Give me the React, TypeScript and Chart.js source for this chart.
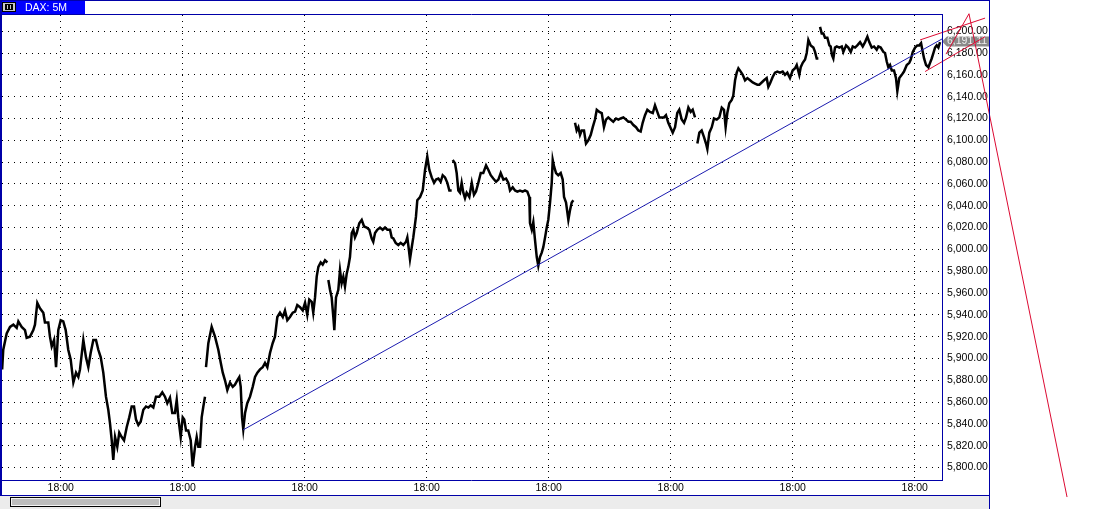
import React, { useEffect, useRef } from "react";
import { Chart, registerables } from "chart.js";

Chart.register(...registerables);

// ---- Data (session hours: each trading day spans 11 h, 09:00-20:00) ----
const seg1Times = [3.72, 3.82, 4.13, 4.43, 4.73, 5.03, 5.18, 5.48, 5.78, 5.93, 6.23, 6.53, 6.68, 6.89, 7.13, 7.43, 7.58, 7.88, 8.03, 8.19, 8.40, 8.58, 8.78, 9.00, 9.23, 9.45, 9.68, 9.90, 10.14, 10.38, 10.59, 10.74, 11.04, 11.28, 11.49, 11.70, 11.94, 12.18, 12.39, 12.61, 12.84, 13.08, 13.29, 13.44, 13.60, 13.74, 13.90, 14.10, 14.28, 14.50, 14.71, 14.95, 15.18, 15.40, 15.61, 15.79, 16.00, 16.21, 16.45, 16.69, 16.90, 17.11, 17.35, 17.59, 17.89, 18.16, 18.40, 18.61, 18.85, 19.06, 19.30, 19.46, 19.60, 19.82, 20.00, 20.14, 20.30, 20.50, 20.72, 20.90, 21.11, 21.26, 21.41, 21.56, 21.71, 21.86, 22.01];
const seg1Prices = [5890, 5908, 5923, 5929, 5931, 5928, 5934, 5929, 5926, 5919, 5920, 5926, 5931, 5951, 5946, 5942, 5933, 5933, 5920, 5911, 5917, 5892, 5926, 5935, 5934, 5926, 5908, 5899, 5878, 5887, 5883, 5890, 5917, 5901, 5892, 5905, 5917, 5917, 5908, 5901, 5887, 5865, 5853, 5841, 5825, 5807, 5828, 5819, 5832, 5828, 5825, 5837, 5846, 5856, 5856, 5844, 5839, 5842, 5853, 5856, 5855, 5857, 5855, 5865, 5865, 5869, 5865, 5859, 5864, 5850, 5850, 5862, 5846, 5828, 5846, 5844, 5834, 5834, 5825, 5801, 5819, 5828, 5819, 5819, 5846, 5856, 5865];

const seg2Times = [22.10, 22.31, 22.61, 22.91, 23.21, 23.43, 23.61, 23.81, 24.02, 24.26, 24.51, 24.71, 24.92, 25.10, 25.23, 25.35, 25.46, 25.62, 25.82, 26.07, 26.31, 26.52, 26.73, 26.97, 27.21, 27.42, 27.63, 27.87, 28.11, 28.32, 28.53, 28.77, 29.02, 29.22, 29.43, 29.67, 29.92, 30.13, 30.33, 30.58, 30.82, 31.03, 31.23, 31.41, 31.63, 31.77, 31.93, 32.08, 32.23, 32.44, 32.62, 32.83, 33.04];
const seg2Prices = [5892, 5914, 5929, 5920, 5908, 5896, 5887, 5880, 5871, 5878, 5874, 5876, 5880, 5883, 5874, 5846, 5835, 5850, 5859, 5865, 5874, 5883, 5887, 5890, 5892, 5896, 5892, 5905, 5914, 5920, 5938, 5942, 5938, 5944, 5935, 5938, 5942, 5943, 5949, 5947, 5944, 5951, 5940, 5954, 5952, 5942, 5956, 5975, 5984, 5988, 5986, 5990, 5988];

const seg3Times = [33.13, 33.28, 33.43, 33.58, 33.67, 33.82, 34.03, 34.18, 34.33, 34.48, 34.63, 34.79, 34.93, 35.08, 35.24, 35.38, 35.53, 35.69, 35.92, 36.14, 36.35, 36.59, 36.82, 37.04, 37.18, 37.34, 37.54, 37.79, 38.03, 38.24, 38.45, 38.69, 38.84, 38.99, 39.20, 39.44, 39.65, 39.89, 40.13, 40.25, 40.40, 40.49, 40.65, 40.79, 41.03, 41.15, 41.40, 41.64, 41.85, 42.05, 42.23, 42.45, 42.66, 42.84, 43.05, 43.26, 43.44, 43.65, 43.86, 44.04, 44.25];
const seg3Prices = [5972, 5963, 5956, 5938, 5926, 5956, 5963, 5981, 5969, 5975, 5966, 5978, 5984, 5993, 6015, 6018, 6011, 6015, 6024, 6027, 6021, 6020, 6018, 6010, 6007, 6015, 6018, 6020, 6018, 6020, 6018, 6018, 6011, 6010, 6006, 6004, 6006, 6004, 6007, 6011, 5999, 5991, 6002, 6011, 6030, 6045, 6048, 6054, 6073, 6085, 6073, 6066, 6061, 6064, 6065, 6062, 6068, 6066, 6061, 6054, 6054];

const seg4Times = [44.34, 44.55, 44.70, 44.85, 45.00, 45.15, 45.30, 45.45, 45.60, 45.84, 46.06, 46.26, 46.44, 46.65, 46.87, 47.10, 47.35, 47.55, 47.77, 48.00, 48.25, 48.46, 48.67, 48.91, 49.15, 49.36, 49.51, 49.75, 49.96, 50.17, 50.41, 50.65, 50.86, 51.07, 51.25, 51.31, 51.47, 51.61, 51.76, 51.92, 52.06, 52.21, 52.37, 52.51, 52.67, 52.82, 52.96, 53.12, 53.27, 53.36, 53.48, 53.66, 53.86, 54.08, 54.26, 54.38, 54.56, 54.77, 54.92, 55.07, 55.22];
const seg4Prices = [6082, 6079, 6070, 6054, 6052, 6061, 6052, 6047, 6052, 6048, 6061, 6050, 6053, 6061, 6070, 6070, 6077, 6073, 6068, 6065, 6062, 6064, 6070, 6064, 6065, 6061, 6054, 6057, 6054, 6053, 6054, 6053, 6054, 6053, 6048, 6024, 6018, 6025, 6009, 5993, 5985, 5993, 5997, 6002, 6011, 6020, 6027, 6043, 6061, 6082, 6076, 6070, 6068, 6070, 6064, 6048, 6043, 6027, 6036, 6043, 6045];

const seg5Times = [55.37, 55.52, 55.67, 55.82, 55.97, 56.18, 56.36, 56.57, 56.79, 56.97, 57.17, 57.33, 57.56, 57.78, 57.98, 58.16, 58.37, 58.59, 58.82, 59.07, 59.28, 59.49, 59.73, 59.97, 60.18, 60.39, 60.63, 60.87, 61.08, 61.29, 61.47, 61.68, 61.89, 62.13, 62.38, 62.58, 62.79, 62.97, 63.19, 63.39, 63.57, 63.78, 64.00, 64.18, 64.39, 64.59, 64.77, 64.99, 65.20, 65.38, 65.59, 65.80, 65.98, 66.19];
const seg5Prices = [6116, 6109, 6112, 6105, 6109, 6109, 6097, 6100, 6105, 6112, 6119, 6128, 6126, 6125, 6112, 6119, 6121, 6119, 6117, 6120, 6119, 6120, 6121, 6119, 6117, 6117, 6114, 6112, 6109, 6108, 6116, 6123, 6128, 6126, 6125, 6132, 6126, 6121, 6121, 6121, 6123, 6116, 6111, 6107, 6112, 6125, 6128, 6119, 6116, 6121, 6130, 6126, 6128, 6121];

const seg6Times = [66.40, 66.58, 66.79, 67.00, 67.18, 67.30, 67.48, 67.70, 67.90, 68.15, 68.38, 68.60, 68.80, 68.95, 69.10, 69.28, 69.50, 69.64, 69.80, 69.95, 70.10, 70.31, 70.49, 70.70, 70.91, 71.15, 71.39, 71.60, 71.81, 71.99, 72.20, 72.41, 72.65, 72.80, 72.95, 73.19, 73.40, 73.61, 73.85, 74.09, 74.30, 74.51, 74.75, 74.99, 75.21, 75.36, 75.59, 75.72, 75.90, 76.11, 76.26, 76.41, 76.62, 76.86, 77.01, 77.16, 77.31];
const seg6Prices = [6097, 6107, 6109, 6103, 6097, 6092, 6107, 6112, 6120, 6119, 6121, 6130, 6128, 6112, 6125, 6134, 6137, 6141, 6155, 6162, 6166, 6163, 6160, 6155, 6157, 6155, 6153, 6152, 6151, 6151, 6153, 6155, 6157, 6149, 6152, 6158, 6162, 6163, 6162, 6163, 6160, 6162, 6157, 6164, 6166, 6169, 6160, 6167, 6171, 6174, 6180, 6192, 6187, 6185, 6181, 6175, 6175];

const seg7Times = [77.46, 77.61, 77.76, 77.91, 78.12, 78.30, 78.42, 78.54, 78.66, 78.81, 78.97, 79.20, 79.42, 79.56, 79.81, 80.01, 80.23, 80.41, 80.62, 80.82, 81.07, 81.31, 81.52, 81.73, 81.90, 82.12, 82.33, 82.57, 82.72, 82.93, 83.17, 83.32, 83.48, 83.62, 83.77, 83.93, 84.13, 84.31, 84.43, 84.61, 84.83, 85.03, 85.28, 85.51, 85.64, 85.82, 86.03, 86.23, 86.41, 86.57, 86.72, 86.84, 87.02, 87.23, 87.38, 87.53, 87.68, 87.83, 87.98, 88.13, 88.28];
const seg7Prices = [6204, 6198, 6198, 6194, 6194, 6187, 6186, 6178, 6175, 6185, 6186, 6185, 6186, 6181, 6187, 6185, 6181, 6186, 6185, 6187, 6190, 6186, 6190, 6195, 6190, 6185, 6186, 6183, 6186, 6185, 6181, 6180, 6172, 6167, 6169, 6164, 6164, 6157, 6145, 6157, 6160, 6163, 6169, 6171, 6174, 6181, 6185, 6187, 6187, 6189, 6181, 6175, 6169, 6167, 6171, 6175, 6180, 6185, 6187, 6185, 6190];

const lastPrice = 6191.11;

// Drawing tools on the chart (time, price endpoints)
const trendTimes = [25.44, 88.46];
const trendPrices = [5834.5, 6192.9];
const redUpperTimes = [86.48, 92.34];
const redUpperPrices = [6192, 6212];
const redLowerTimes = [86.93, 92.34];
const redLowerPrices = [6163, 6195];
const redLegTimes = [88.82, 90.89];
const redLegPrices = [6179, 6216];
const redLongTimes = [90.89, 99.73];
const redLongPrices = [6216, 5773];

// Axes
const yTickValues = [5800, 5820, 5840, 5860, 5880, 5900, 5920, 5940, 5960, 5980, 6000, 6020, 6040, 6060, 6080, 6100, 6120, 6140, 6160, 6180, 6200];
const xTickTimes = [9, 20, 31, 42, 53, 64, 75, 86];
const xTickLabels = ["18:00", "18:00", "18:00", "18:00", "18:00", "18:00", "18:00", "18:00"];
const X_MIN = 3.707;
const X_MAX = 88.457;
const Y_MIN = 5787.7;
const Y_MAX = 6214.85;
const titleText = "DAX: 5M";

const FONT = "'Liberation Sans', Arial, sans-serif";
const FRAME_BLUE = "#0000a8";
const RED = "#dc0a32";

const fmtPrice = (v: number) => {
  const [i, d] = v.toFixed(2).split(".");
  return i.replace(/\B(?=(\d{3})+(?!\d))/g, ",") + "." + d;
};

const pairs = (ts: number[], ps: number[]) => ts.map((t, i) => ({ x: t, y: ps[i] }));

function buildPriceData() {
  const segs: [number[], number[]][] = [
    [seg1Times, seg1Prices],
    [seg2Times, seg2Prices],
    [seg3Times, seg3Prices],
    [seg4Times, seg4Prices],
    [seg5Times, seg5Prices],
    [seg6Times, seg6Prices],
    [seg7Times, seg7Prices],
  ];
  const out: { x: number; y: number | null }[] = [];
  segs.forEach(([ts, ps], i) => {
    if (i > 0) out.push({ x: ts[0] - 0.01, y: null });
    out.push(...pairs(ts, ps));
  });
  return out;
}

const framePlugin = {
  id: "terminalFrame",
  beforeDraw(chart: any) {
    const ctx = chart.ctx as CanvasRenderingContext2D;
    const yS = chart.scales.y;
    const outerR = yS.right;
    const xS = chart.scales.x;
    const scrollTop = xS.bottom;
    ctx.save();
    ctx.fillStyle = "#ffffff";
    ctx.fillRect(0, 0, chart.width, chart.height);
    // scrollbar strip
    ctx.fillStyle = "#ececec";
    ctx.fillRect(0, scrollTop + 1, outerR, 13);
    ctx.fillStyle = "#bdbdbd";
    ctx.fillRect(10, scrollTop + 2, 151, 10);
    ctx.strokeStyle = "#000";
    ctx.lineWidth = 1;
    ctx.strokeRect(10.5, scrollTop + 2.5, 150, 9);
    ctx.strokeStyle = "#f4f4f4";
    ctx.strokeRect(11.5, scrollTop + 3.5, 148, 7);
    // header bar
    ctx.fillStyle = "#0000ff";
    ctx.fillRect(0, 0, 85, 14);
    // icon
    ctx.fillStyle = "#c8c8c8";
    ctx.fillRect(2, 2, 14, 10);
    ctx.strokeStyle = "#000";
    ctx.strokeRect(2.5, 2.5, 13, 9);
    ctx.fillStyle = "#000";
    ctx.fillRect(5, 4, 8, 6);
    ctx.fillStyle = "#c8c8c8";
    ctx.fillRect(7, 5, 4, 4);
    ctx.fillStyle = "#000";
    ctx.fillRect(8, 5, 2, 4);
    ctx.fillStyle = "#ffffff";
    ctx.font = `10.5px ${FONT}`;
    ctx.textBaseline = "alphabetic";
    ctx.textAlign = "left";
    ctx.fillText(titleText, 25, 11);
    ctx.restore();
  },
  beforeDatasetsDraw(chart: any) {
    const ctx = chart.ctx as CanvasRenderingContext2D;
    const yS = chart.scales.y;
    const y = Math.round(yS.getPixelForValue(lastPrice)) + 0.5;
    const x0 = chart.chartArea.right;
    const x1 = yS.right;
    ctx.save();
    ctx.fillStyle = "#8a8a8a";
    ctx.beginPath();
    ctx.moveTo(x0, y);
    ctx.lineTo(x0 + 5, y - 5);
    ctx.lineTo(x1, y - 5);
    ctx.lineTo(x1, y + 5);
    ctx.lineTo(x0 + 5, y + 5);
    ctx.closePath();
    ctx.fill();
    ctx.fillStyle = "#eeeeee";
    ctx.font = `10.5px ${FONT}`;
    ctx.textBaseline = "middle";
    ctx.textAlign = "left";
    ctx.fillText(fmtPrice(lastPrice), x0 + 5, y);
    ctx.restore();
  },
  afterDraw(chart: any) {
    const ctx = chart.ctx as CanvasRenderingContext2D;
    const a = chart.chartArea;
    const outerR = chart.scales.y.right;
    const scrollTop = chart.scales.x.bottom;
    ctx.save();
    ctx.strokeStyle = FRAME_BLUE;
    ctx.lineWidth = 1;
    ctx.beginPath();
    ctx.moveTo(0, 0.5);
    ctx.lineTo(outerR + 1, 0.5);
    ctx.moveTo(0, a.top - 0.5);
    ctx.lineTo(a.right + 1, a.top - 0.5);
    ctx.moveTo(a.right + 0.5, a.top - 1);
    ctx.lineTo(a.right + 0.5, a.bottom);
    ctx.moveTo(0, a.bottom - 0.5);
    ctx.lineTo(a.right + 1, a.bottom - 0.5);
    ctx.moveTo(outerR + 0.5, 0);
    ctx.lineTo(outerR + 0.5, scrollTop + 14);
    ctx.moveTo(0, scrollTop + 0.5);
    ctx.lineTo(outerR + 1, scrollTop + 0.5);
    ctx.stroke();
    ctx.fillStyle = FRAME_BLUE;
    ctx.fillRect(0, 0, 2, scrollTop);
    ctx.restore();
  },
};

export default function App() {
  const canvasRef = useRef<HTMLCanvasElement | null>(null);

  useEffect(() => {
    if (!canvasRef.current) return;
    const tickFont = { family: FONT, size: 10.5 };
    const chart = new Chart(canvasRef.current, {
      type: "line",
      data: {
        datasets: [
          {
            data: buildPriceData(),
            borderColor: "#000000",
            borderWidth: 2.5,
            pointRadius: 0,
            spanGaps: false,
            tension: 0,
            order: 3,
          },
          {
            data: pairs(trendTimes, trendPrices),
            borderColor: "#1c1cb0",
            borderWidth: 1,
            pointRadius: 0,
            order: 2,
          },
          {
            data: pairs(redUpperTimes, redUpperPrices),
            borderColor: RED,
            borderWidth: 1,
            pointRadius: 0,
            clip: false,
            order: 1,
          },
          {
            data: pairs(redLowerTimes, redLowerPrices),
            borderColor: RED,
            borderWidth: 1,
            pointRadius: 0,
            clip: false,
            order: 1,
          },
          {
            data: pairs(redLegTimes, redLegPrices),
            borderColor: RED,
            borderWidth: 1,
            pointRadius: 0,
            clip: false,
            order: 1,
          },
          {
            data: pairs(redLongTimes, redLongPrices),
            borderColor: RED,
            borderWidth: 1,
            pointRadius: 0,
            clip: false,
            order: 1,
          },
        ] as any,
      },
      options: {
        animation: false,
        responsive: false,
        devicePixelRatio: 1,
        events: [],
        layout: { padding: { left: 2, top: 15, right: 123, bottom: 23 } },
        plugins: {
          legend: { display: false },
          tooltip: { enabled: false },
        },
        scales: {
          x: {
            type: "linear",
            position: "bottom",
            min: X_MIN,
            max: X_MAX,
            afterFit: (s: any) => {
              s.height = 14;
            },
            afterBuildTicks: (s: any) => {
              s.ticks = xTickTimes.map((v) => ({ value: v }));
            },
            ticks: {
              autoSkip: false,
              maxRotation: 0,
              minRotation: 0,
              padding: 1,
              color: "#000",
              font: tickFont,
              callback: (_v: any, i: number) => xTickLabels[i],
            },
            grid: { color: "#000", lineWidth: 1, drawTicks: false },
            border: { display: false, dash: [1, 5] },
          },
          y: {
            type: "linear",
            position: "right",
            min: Y_MIN,
            max: Y_MAX,
            afterFit: (s: any) => {
              s.width = 47;
            },
            afterBuildTicks: (s: any) => {
              s.ticks = yTickValues.map((v) => ({ value: v }));
            },
            ticks: {
              autoSkip: false,
              padding: 5,
              color: "#000",
              font: tickFont,
              callback: (v: any) => fmtPrice(Number(v)),
            },
            grid: { color: "#000", lineWidth: 1, drawTicks: false },
            border: { display: false, dash: [1, 5] },
          },
        },
      } as any,
      plugins: [framePlugin],
    });
    return () => chart.destroy();
  }, []);

  return (
    <div style={{ position: "absolute", left: 0, top: 0, width: 1112, height: 518 }}>
      <canvas ref={canvasRef} width={1112} height={518} style={{ display: "block" }} />
    </div>
  );
}
